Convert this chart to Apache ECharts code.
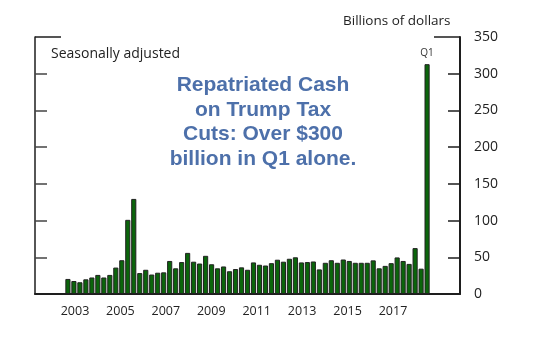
<!DOCTYPE html>
<html>
<head>
<meta charset="utf-8">
<script src="https://cdn.jsdelivr.net/npm/echarts@6/dist/echarts.min.js"></script>
<style>
html,body{margin:0;padding:0;background:#fff;}
#chart{width:536px;height:349px;}
</style>
</head>
<body>
<div id="chart"></div>
<script>
// Quarterly categories: empty slots before/after the data keep the original spacing
const leadQuarters = ['2001Q4', '2002Q1', '2002Q2', '2002Q3', '2002Q4'];
const dataYears = [2003, 2004, 2005, 2006, 2007, 2008, 2009, 2010, 2011, 2012, 2013, 2014, 2015, 2016, 2017];
const trailQuarters = ['2018Q2', '2018Q3', '2018Q4', '2019Q1', '2019Q2'];

// Repatriated earnings, billions of dollars, 2003Q1 .. 2018Q1
const repatriated = [
  20.5, 17.7, 16, 20, 22.5, 26, 22.5, 26, 36, 46,
  101, 129.5, 28.5, 33, 26.5, 29, 29.5, 45, 35, 43.5,
  56, 44, 41.5, 52, 40.5, 35, 37.5, 31, 34, 36.3,
  33, 43, 39.8, 38.8, 42, 46.7, 44, 48, 50, 43,
  43.5, 44.3, 33.5, 42.5, 46, 42.5, 47, 45, 42.5, 42.5,
  42.5, 45.8, 35, 38.3, 42, 49.8, 45, 41, 62.5, 34.5,
  313
];

const yearLabels = [2003, 2005, 2007, 2009, 2011, 2013, 2015, 2017];
const yTicks = [0, 50, 100, 150, 200, 250, 300, 350];

const categories = [];
leadQuarters.forEach(q => categories.push(q));
dataYears.forEach(y => { for (let q = 1; q <= 4; q++) categories.push(y + 'Q' + q); });
categories.push('2018Q1');
trailQuarters.forEach(q => categories.push(q));

const values = [];
leadQuarters.forEach(() => values.push(null));
repatriated.forEach((v, i) => {
  if (i === repatriated.length - 1) {
    values.push({ value: v, label: { show: true, position: 'top', distance: 6, formatter: 'Q1',
      fontFamily: 'Open Sans', fontSize: 10, color: '#333' } });
  } else values.push(v);
});
trailQuarters.forEach(() => values.push(null));

const dark = '#1e1e1e';
const font = 'Open Sans';

const chart = echarts.init(document.getElementById('chart'), null, { renderer: 'canvas' });
chart.setOption({
  backgroundColor: '#ffffff',
  animation: false,
  title: [
    { text: 'Billions of dollars', left: 338, top: 9,
      textStyle: { fontFamily: font, fontSize: 13.5, fontWeight: 'normal', color: '#222' } },
    { text: 'Seasonally adjusted', left: 46, top: 42,
      textStyle: { fontFamily: font, fontSize: 14, fontWeight: 'normal', color: '#222' } },
    { text: 'Repatriated Cash\non Trump Tax\nCuts: Over $300\nbillion in Q1 alone.',
      left: 258, top: 68, textAlign: 'center',
      textStyle: { fontFamily: 'Liberation Sans', fontSize: 21, fontWeight: 'bold',
        color: '#4d70aa', lineHeight: 24.5, align: 'center' } }
  ],
  grid: { left: 35, right: 76, top: 37, bottom: 55, containLabel: false },
  xAxis: [
    { type: 'category', data: categories, boundaryGap: true,
      axisLine: { show: true, lineStyle: { color: dark, width: 2 } },
      axisTick: { show: false }, axisLabel: { show: false }, splitLine: { show: false } },
    { type: 'value', position: 'bottom', min: 2001.24, max: 2019.95,
      axisLine: { show: false }, axisTick: { show: false }, splitLine: { show: false },
      axisLabel: { show: true, customValues: yearLabels, margin: 11,
        formatter: v => String(Math.round(v)),
        fontFamily: font, fontSize: 12.5, color: '#222' } }
  ],
  yAxis: [
    { type: 'value', position: 'right', min: 0, max: 350, interval: 50,
      axisLine: { show: true, lineStyle: { color: dark, width: 2 } },
      axisTick: { show: true, inside: true, length: 12, customValues: [50, 100, 150, 200, 250, 300],
        lineStyle: { color: dark, width: 1.5 } },
      axisLabel: { show: true, margin: 14, customValues: yTicks,
        fontFamily: font, fontSize: 14, color: '#222' },
      splitLine: { show: false } },
    { type: 'value', position: 'left', min: 0, max: 350, interval: 50,
      axisLine: { show: true, lineStyle: { color: dark, width: 1.5 } },
      axisTick: { show: true, inside: true, length: 12, customValues: [50, 100, 150, 200, 250, 300],
        lineStyle: { color: '#444', width: 1.5 } },
      axisLabel: { show: false }, splitLine: { show: false } },
    { type: 'value', position: 'right', min: 0, max: 350, interval: 50,
      axisLine: { show: false },
      axisTick: { show: true, inside: true, length: 26, customValues: [350],
        lineStyle: { color: dark, width: 1.5 } },
      axisLabel: { show: false }, splitLine: { show: false } },
    { type: 'value', position: 'left', min: 0, max: 350, interval: 50,
      axisLine: { show: false },
      axisTick: { show: true, inside: true, length: 26, customValues: [350],
        lineStyle: { color: dark, width: 1.5 } },
      axisLabel: { show: false }, splitLine: { show: false } }
  ],
  series: [{
    type: 'bar', xAxisIndex: 0, yAxisIndex: 0, data: values,
    barWidth: '86%',
    itemStyle: { color: '#0b650b', borderColor: '#222', borderWidth: 1 }
  }]
});
</script>
</body>
</html>
